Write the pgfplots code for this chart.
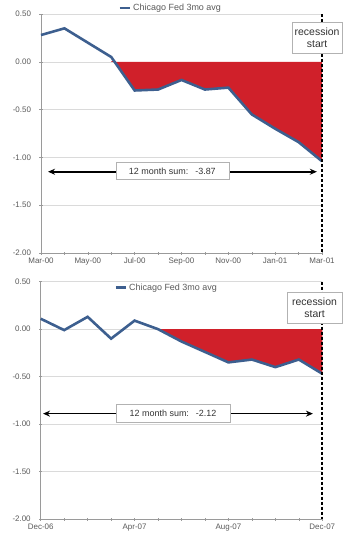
\documentclass[border=0pt]{standalone}
\usepackage{fontspec}
\setmainfont{Liberation Sans}
\usepackage{pgfplots}
\usepackage{pgfplotstable}
\pgfplotsset{compat=1.18}
\usetikzlibrary{arrows.meta}
\definecolor{linecol}{HTML}{3D5F8F}
\definecolor{redfill}{HTML}{D0202A}
\definecolor{gridcol}{HTML}{DADADA}
\definecolor{axiscol}{HTML}{9A9A9A}
\definecolor{labcol}{HTML}{5A5A5A}

\pgfplotstableread{
m v
0 0.28
1 0.35
2 0.20
3 0.05
4 -0.30
5 -0.29
6 -0.19
7 -0.29
8 -0.27
9 -0.55
10 -0.70
11 -0.84
12 -1.04
}\topdata

\pgfplotstableread{
m v
0 0.11
1 -0.01
2 0.13
3 -0.10
4 0.09
5 0.00
6 -0.13
7 -0.24
8 -0.35
9 -0.32
10 -0.40
11 -0.32
12 -0.47
}\botdata

\pgfplotsset{
  chart/.style={
    scale only axis,
    clip=false,
    xmin=0, xmax=12, ymin=-2, ymax=0.5,
    axis x line=bottom, axis y line=left,
    axis line style={axiscol, line width=0.6bp, -},
    ytick={-2,-1.5,-1,-0.5,0,0.5},
    yticklabels={-2.00,-1.50,-1.00,-0.50,0.00,0.50},
    xtick={0,...,12},
    ymajorgrids,
    grid style={gridcol, line width=0.6bp},
    tick style={axiscol, line width=0.5bp},
    tick align=center,
    major tick length=3bp,
    tick label style={font=\fontsize{8}{9}\selectfont, text=labcol},
    yticklabel style={xshift=-5bp},
    legend style={draw=none, fill=none, font=\fontsize{9}{10}\selectfont, text=labcol, anchor=west, inner sep=1bp},
    legend image code/.code={\draw[linecol, line width=2bp] (0bp,0bp) -- (7bp,0bp); \path (0bp,0bp) -- (10bp,0bp);},
  },
}
\tikzset{
  boxnode/.style={draw=gray!60, fill=white, line width=0.6bp, text=black!80, inner sep=1bp},
  sumarrow/.style={line width=1.6bp, black, {Stealth[length=7bp,width=6bp]}-{Stealth[length=7bp,width=6bp]}},
  recline/.style={black, line width=1.8bp, dash pattern=on 3bp off 2bp},
}

\begin{document}
\begin{tikzpicture}
\path[use as bounding box] (0,0) rectangle (354bp,-540bp);

\begin{axis}[chart, width=281bp, height=239bp, at={(41bp,-253bp)}, anchor=south west,
  xticklabels={Mar-00,,May-00,,Jul-00,,Sep-00,,Nov-00,,Jan-01,,Mar-01},
  legend style={at={(0.272,1.025)}}]
\begin{scope}
\clip (axis cs:0,0) rectangle (axis cs:12,-2);
\addplot[fill=redfill, draw=none, forget plot, restrict x to domain=3:12] table[x=m,y=v] {\topdata} \closedcycle;
\end{scope}
\addplot[linecol, line width=2.6bp, no markers] table[x=m,y=v] {\topdata};
\addlegendentry{Chicago Fed 3mo avg}
\draw[recline] (axis cs:12,0.5) -- (axis cs:12,-2);
\draw[sumarrow] (axis cs:0.3,-1.15) -- (axis cs:11.78,-1.15);
\node[boxnode, minimum width=113bp, minimum height=17bp, font=\fontsize{9}{10}\selectfont] at (axis cs:5.61,-1.145) {12 month sum:\hspace{7bp}-3.87\hspace{10bp}};
\node[boxnode, align=center, minimum width=50bp, minimum height=31bp, font=\fontsize{10.5}{12}\selectfont] at (axis cs:11.79,0.256) {recession\\start};
\end{axis}

\begin{axis}[chart, width=281.6bp, height=237.3bp, at={(40.7bp,-519bp)}, anchor=south west,
  xticklabels={Dec-06,,,,Apr-07,,,,Aug-07,,,,Dec-07},
  legend style={at={(0.258,0.975)}}]
\addplot[fill=redfill, draw=none, forget plot, restrict x to domain=5:12] table[x=m,y=v] {\botdata} \closedcycle;
\addplot[linecol, line width=2.6bp, no markers] table[x=m,y=v] {\botdata};
\addlegendentry{Chicago Fed 3mo avg}
\draw[recline] (axis cs:12,0.5) -- (axis cs:12,-2);
\draw[sumarrow] (axis cs:0.1,-0.89) -- (axis cs:11.6,-0.89);
\node[boxnode, minimum width=114bp, minimum height=18bp, font=\fontsize{9}{10}\selectfont] at (axis cs:5.64,-0.89) {12 month sum:\hspace{7bp}-2.12\hspace{10bp}};
\node[boxnode, align=center, minimum width=55bp, minimum height=31bp, font=\fontsize{10.5}{12}\selectfont] at (axis cs:11.67,0.225) {recession\\start};
\end{axis}
\end{tikzpicture}
\end{document}
